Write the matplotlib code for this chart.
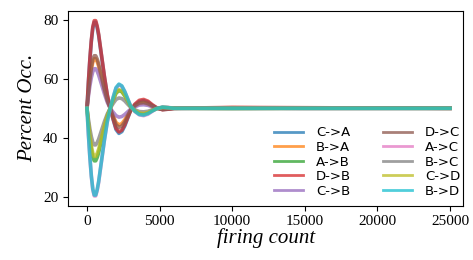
import numpy as np
import matplotlib
matplotlib.use('Agg')
import matplotlib.pyplot as plt

# firing count samples
x = [0, 100, 200, 300, 400, 500, 600, 700, 800, 1000, 1200, 1400, 1600,
     1800, 2000, 2200, 2400, 2600, 2800, 3000, 3300, 3600, 3900, 4200,
     4500, 4800, 5200, 5600, 6000, 10000, 15000, 25000]

labels = ['C->A', 'B->A', 'A->B', 'D->B', 'C->B',
          'D->C', 'A->C', 'B->C', 'C->D', 'B->D']

c_a = [50, 58.9, 66.5, 72.7, 77.1, 79.2, 79.2, 77.4, 74.8, 67.7, 60.6, 54.4, 50,
       46.2, 42.8, 41.5, 42.1, 44.0, 46.6, 49.2, 51.2, 52.3, 52.6, 52.1,
       51.0, 50.1, 49.6, 49.7, 50, 50.1, 50, 50]
b_a = [50, 55.1, 59.5, 63.1, 65.6, 66.8, 66.8, 65.8, 64.3, 60.2, 56.1, 52.6, 50,
       47.5, 45.2, 44.4, 44.8, 46.1, 47.8, 49.4, 50.8, 51.6, 51.8, 51.4,
       50.7, 50.1, 49.7, 49.8, 50, 50.2, 50.1, 50]
a_b = [50, 44.6, 39.9, 36.1, 33.4, 32.2, 32.2, 33.3, 34.9, 39.2, 43.5, 47.3, 50,
       52.7, 55.1, 56.0, 55.6, 54.2, 52.4, 50.6, 49.1, 48.2, 48.0, 48.4,
       49.2, 49.9, 50.3, 50.2, 50, 49.9, 50, 50]
d_b = [50, 59.0, 66.8, 73.1, 77.6, 79.7, 79.7, 77.9, 75.2, 68.0, 60.8, 54.5, 50,
       46.4, 43.2, 42.0, 42.6, 44.4, 46.8, 49.2, 51.4, 52.7, 53.0, 52.4,
       51.2, 50.2, 49.5, 49.7, 50, 50.3, 50.2, 50]
c_b = [50, 54.1, 57.6, 60.4, 62.4, 63.4, 63.4, 62.6, 61.3, 58.1, 54.9, 52.0, 50,
       48.7, 47.5, 47.0, 47.2, 47.9, 48.8, 49.7, 50.5, 51.1, 51.2, 51.0,
       50.5, 50.1, 49.8, 49.9, 50, 50, 50, 50]
d_c = [50, 55.4, 60.1, 63.9, 66.6, 67.8, 67.8, 66.7, 65.1, 60.8, 56.5, 52.7, 50,
       47.1, 44.5, 43.5, 44.0, 45.4, 47.4, 49.4, 50.9, 51.8, 52.0, 51.6,
       50.8, 50.1, 49.6, 49.8, 50, 50.1, 50, 50]
a_c = [50, 41.0, 33.2, 26.9, 22.4, 20.3, 20.3, 22.1, 24.8, 32.0, 39.2, 45.5, 50,
       53.6, 56.8, 58.0, 57.4, 55.6, 53.2, 50.8, 48.9, 47.8, 47.5, 48.0,
       49.0, 49.9, 50.4, 50.3, 50, 50, 50, 50]
b_c = [50, 46.3, 43.0, 40.4, 38.5, 37.6, 37.6, 38.4, 39.5, 42.5, 45.5, 48.1, 50,
       51.6, 53.0, 53.5, 53.3, 52.5, 51.4, 50.4, 49.5, 48.9, 48.8, 49.0,
       49.5, 49.9, 50.2, 50.1, 50, 50, 50, 50]
c_d = [50, 45.0, 40.8, 37.3, 34.8, 33.7, 33.7, 34.7, 36.1, 40.1, 44.1, 47.5, 50,
       52.8, 55.4, 56.3, 55.9, 54.4, 52.5, 50.6, 49.2, 48.4, 48.2, 48.6,
       49.3, 49.9, 50.3, 50.2, 50, 50, 50, 50]
b_d = [50, 41.1, 33.4, 27.1, 22.7, 20.6, 20.6, 22.4, 25.1, 32.2, 39.3, 45.5, 50,
       53.7, 57.0, 58.2, 57.6, 55.7, 53.3, 50.8, 49.0, 47.9, 47.7, 48.2,
       49.1, 49.9, 50.4, 50.2, 50, 50, 50, 50]

series = [c_a, b_a, a_b, d_b, c_b, d_c, a_c, b_c, c_d, b_d]

serif = 'Liberation Serif'

fig = plt.figure(figsize=(4.73, 2.6), dpi=100)
ax = fig.add_axes([0.144, 0.209, 0.835, 0.749])

for lab, y in zip(labels, series):
    ax.plot(x, y, linewidth=2.6, alpha=0.75, label=lab)

ax.set_xlim(-1300, 25900)
ax.set_ylim(17, 83)
ax.set_xticks([0, 5000, 10000, 15000, 20000, 25000])
ax.set_yticks([20, 40, 60, 80])
for t in ax.get_xticklabels() + ax.get_yticklabels():
    t.set_fontfamily(serif)
    t.set_fontsize(11)

ax.set_xlabel('firing count', fontfamily=serif, fontstyle='italic', fontsize=15, labelpad=0)
ax.set_ylabel('Percent Occ.', fontfamily=serif, fontstyle='italic', fontsize=15, labelpad=4)

leg = ax.legend(ncol=2, frameon=False, fontsize=9.5, loc='lower right',
                bbox_to_anchor=(1.023, -0.02), handlelength=2.2, labelspacing=0.12,
                columnspacing=2.4, handletextpad=1.0)
for h in leg.get_lines():
    h.set_linewidth(2.0)

fig.savefig('out.png', dpi=100)
